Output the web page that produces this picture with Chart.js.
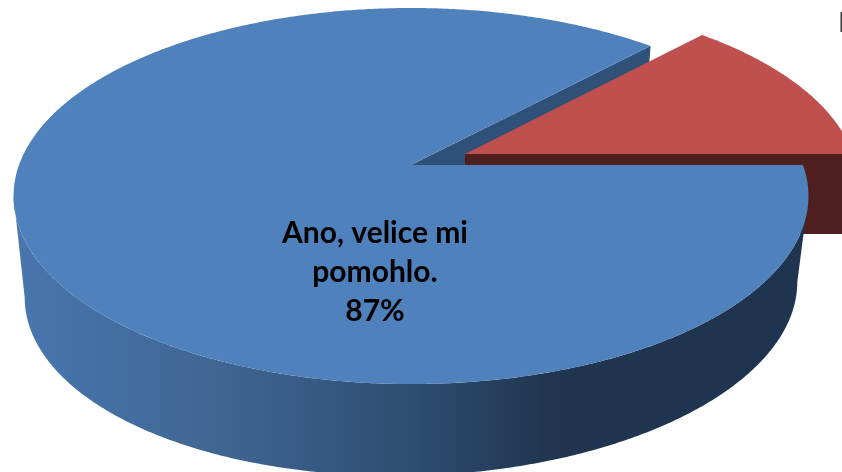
<!DOCTYPE html>
<html>
<head>
<meta charset="utf-8">
<style>html,body{margin:0;padding:0;background:#fff;overflow:hidden}canvas{display:block}</style>
<script src="https://cdn.jsdelivr.net/npm/chart.js@4"></script>
</head>
<body>
<canvas id="c" width="842" height="472"></canvas>
<script>
const categories = ["Ano, velice mi pomohlo.", "Ne"];
const shares = [87, 13];
const labelLines = ["Ano, velice mi", "pomohlo.", "87%"];
const topColors = ["#4F81BD", "#C0504D"];
const cutWallColors = ["#2F5078", "#4F1F1F"];

const PERSP = 0.165;
const blueTop = {cx: 411, ay: 165, a: 182.9, b: 392, shear: 0};
const blueLow = {cx: 411, ay: 259, a: 181, b: 381, shear: -0.02};
const redTop  = {cx: 465, ay: 154, a: 182.9, b: 388, shear: 0};
const redLow  = {cx: 465, ay: 234, a: 182.9, b: 388, shear: 0};

function proj(L, t) {
  const u = Math.cos(t), v = Math.sin(t), w = 1 - PERSP * v;
  const dx = L.b * u / w;
  return [L.cx + dx, L.ay + L.a * v / w + L.shear * dx];
}
function poly(ctx, pts, fill) {
  ctx.beginPath();
  pts.forEach((p, i) => i ? ctx.lineTo(p[0], p[1]) : ctx.moveTo(p[0], p[1]));
  ctx.closePath();
  ctx.fillStyle = fill;
  ctx.fill();
}
function arcPts(L, a0, a1) {
  const n = Math.max(2, Math.ceil(Math.abs(a1 - a0) / (Math.PI / 360)));
  const out = [];
  for (let i = 0; i <= n; i++) out.push(proj(L, a0 + (a1 - a0) * i / n));
  return out;
}
function wedge(ctx, L, a0, a1, fill) {
  poly(ctx, [[L.cx, L.ay]].concat(arcPts(L, a0, a1)), fill);
}

const pie3d = {
  id: "pie3d",
  beforeDatasetsDraw(chart) {
    const ctx = chart.ctx;
    const [blue, red] = chart.getDatasetMeta(0).data;
    const bs = blue.startAngle, be = blue.endAngle;
    const rs = red.startAngle, re = red.endAngle;
    ctx.save();

    // blue cut wall, seen through the gap
    poly(ctx, [[blueTop.cx, blueTop.ay], proj(blueTop, be), proj(blueLow, be), [blueLow.cx, blueLow.ay]], cutWallColors[0]);

    // exploded red slice
    poly(ctx, [[redTop.cx, redTop.ay], proj(redTop, re), proj(redLow, re), [redLow.cx, redLow.ay]], cutWallColors[1]);
    wedge(ctx, redTop, rs, re, topColors[1]);

    // blue outer wall
    const tan = Math.asin(PERSP);
    const g = ctx.createLinearGradient(12, 0, 807, 0);
    g.addColorStop(0, "#4876AE");
    g.addColorStop(0.25, "#3F6794");
    g.addColorStop(0.5, "#2F4D72");
    g.addColorStop(0.67, "#203650");
    g.addColorStop(1, "#1F354F");
    const front = arcPts(blueTop, tan, Math.PI - tan);
    const back = arcPts(blueLow, Math.PI - tan, tan);
    poly(ctx, front.concat(back), g);

    // blue top face
    wedge(ctx, blueTop, bs, be, topColors[0]);
    ctx.restore();
    return false;
  },
  afterDraw(chart) {
    const ctx = chart.ctx;
    ctx.save();
    ctx.textAlign = "center";
    ctx.textBaseline = "alphabetic";
    ctx.fillStyle = "#000";
    ctx.font = "bold 30px Lato";
    labelLines.forEach((s, i) => ctx.fillText(s, 375, 243 + i * 39));
    ctx.textAlign = "left";
    ctx.fillStyle = "#404040";
    ctx.font = "27px Lato";
    ctx.fillText(categories[1], 838, 32);
    ctx.restore();
  }
};

new Chart(document.getElementById("c"), {
  type: "pie",
  data: {
    labels: categories,
    datasets: [{data: shares, backgroundColor: topColors, borderWidth: 0}]
  },
  options: {
    responsive: false,
    animation: false,
    rotation: 90,
    plugins: {legend: {display: false}, tooltip: {enabled: false}}
  },
  plugins: [pie3d]
});
</script>
</body>
</html>
